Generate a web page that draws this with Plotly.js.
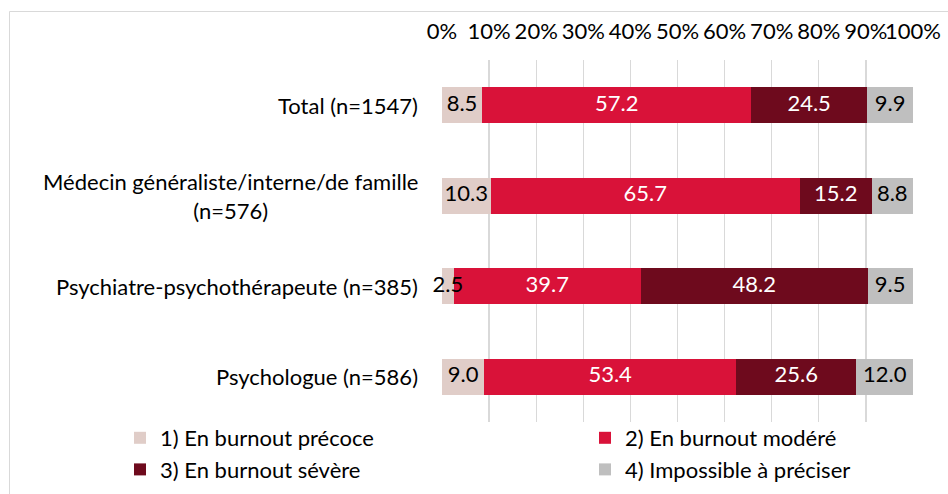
<!DOCTYPE html>
<html>
<head>
<meta charset="utf-8">
<script src="https://cdn.plot.ly/plotly-3.0.1.min.js"></script>
<style>
  html, body { margin: 0; padding: 0; background: #ffffff; }
  #chart { width: 948px; height: 494px; }
</style>
</head>
<body>
<div id="chart"></div>
<script>
// ---- data ----
const categories = [
  "Total (n=1547)",
  "Médecin généraliste/interne/de famille<br>(n=576)",
  "Psychiatre-psychothérapeute (n=385)",
  "Psychologue (n=586)"
];
const seriesNames = [
  "1) En burnout précoce",
  "2) En burnout modéré",
  "3) En burnout sévère",
  "4) Impossible à préciser"
];
const precoce    = [8.5, 10.3, 2.5, 9.0];
const modere     = [57.2, 65.7, 39.7, 53.4];
const severe     = [24.5, 15.2, 48.2, 25.6];
const impossible = [9.9, 8.8, 9.5, 12.0];
const tickValues = [0, 10, 20, 30, 40, 50, 60, 70, 80, 90, 100];

// ---- styles ----
const W = 948, H = 494;
const FONT = "Lato, 'Open Sans', sans-serif";
const FS = 22;
const colors = ["#E0CDC8", "#D91239", "#6E0A1D", "#BFBFBF"];
const textColors = ["#000000", "#ffffff", "#ffffff", "#000000"];
const legendOf = ["legend", "legend2", "legend", "legend2"];
const seriesValues = [precoce, modere, severe, impossible];

// plot box in pixels
const PX0 = 442, PX1 = 913, PY0 = 60, PY1 = 422;

const barTraces = seriesValues.map((vals, i) => ({
  type: "bar",
  orientation: "h",
  name: seriesNames[i],
  legend: legendOf[i],
  y: categories,
  x: vals,
  marker: { color: colors[i], line: { width: 0 } },
  hoverinfo: "skip"
}));

// value labels, centred on each segment (drawn above all bars)
const starts = categories.map(() => 0);
const labelTraces = seriesValues.map((vals, i) => {
  const mids = vals.map((v, k) => starts[k] + v / 2);
  vals.forEach((v, k) => { starts[k] += v; });
  return {
    type: "scatter",
    mode: "text",
    x: mids,
    y: categories,
    text: vals.map(v => v.toFixed(1)),
    textposition: "middle center",
    textfont: { family: FONT, size: FS, color: textColors[i] },
    cliponaxis: false,
    showlegend: false,
    hoverinfo: "skip"
  };
});

const annotations = categories.map(c => ({
  xref: "x domain", yref: "y",
  x: 0, y: c,
  xanchor: "right", yanchor: "middle",
  xshift: -22,
  align: "center",
  text: c,
  showarrow: false,
  font: { family: FONT, size: FS, color: "#000000" }
}));

const legendBase = {
  orientation: "v",
  xref: "paper", yref: "paper",
  xanchor: "left", yanchor: "top",
  traceorder: "normal",
  font: { family: FONT, size: FS, color: "#000000" },
  bgcolor: "rgba(0,0,0,0)",
  borderwidth: 0
};

const layout = {
  width: W, height: H,
  margin: { l: 0, r: 0, t: 0, b: 0 },
  paper_bgcolor: "#ffffff",
  plot_bgcolor: "#ffffff",
  barmode: "stack",
  bargap: 0.6,
  font: { family: FONT, size: FS, color: "#000000" },
  xaxis: {
    domain: [PX0 / W, PX1 / W],
    side: "top",
    range: [0, 100],
    tickvals: tickValues,
    ticktext: tickValues.map(v => v + "%"),
    tickangle: 0,
    showgrid: true,
    gridcolor: "#D9D9D9",
    gridwidth: 1.3,
    zeroline: false,
    showline: false,
    ticks: "",
    ticklabelstandoff: 16,
    tickfont: { family: FONT, size: FS, color: "#000000" },
    automargin: false,
    fixedrange: true
  },
  yaxis: {
    domain: [1 - PY1 / H, 1 - PY0 / H],
    type: "category",
    autorange: "reversed",
    showticklabels: false,
    showgrid: false,
    zeroline: false,
    showline: false,
    ticks: "",
    automargin: false,
    fixedrange: true
  },
  showlegend: true,
  legend: Object.assign({}, legendBase, { x: 120 / W, y: 1 - 417 / H }),
  legend2: Object.assign({}, legendBase, { x: 585 / W, y: 1 - 417 / H }),
  annotations: annotations,
  shapes: [{
    type: "rect",
    xref: "paper", yref: "paper",
    x0: 9.5 / W, x1: 1.05,
    y0: -0.05, y1: 1 - 11.5 / H,
    line: { color: "#D9D9D9", width: 1 },
    fillcolor: "rgba(0,0,0,0)",
    layer: "below"
  }]
};

Plotly.newPlot("chart", barTraces.concat(labelTraces), layout, { displayModeBar: false, staticPlot: true });
</script>
</body>
</html>
